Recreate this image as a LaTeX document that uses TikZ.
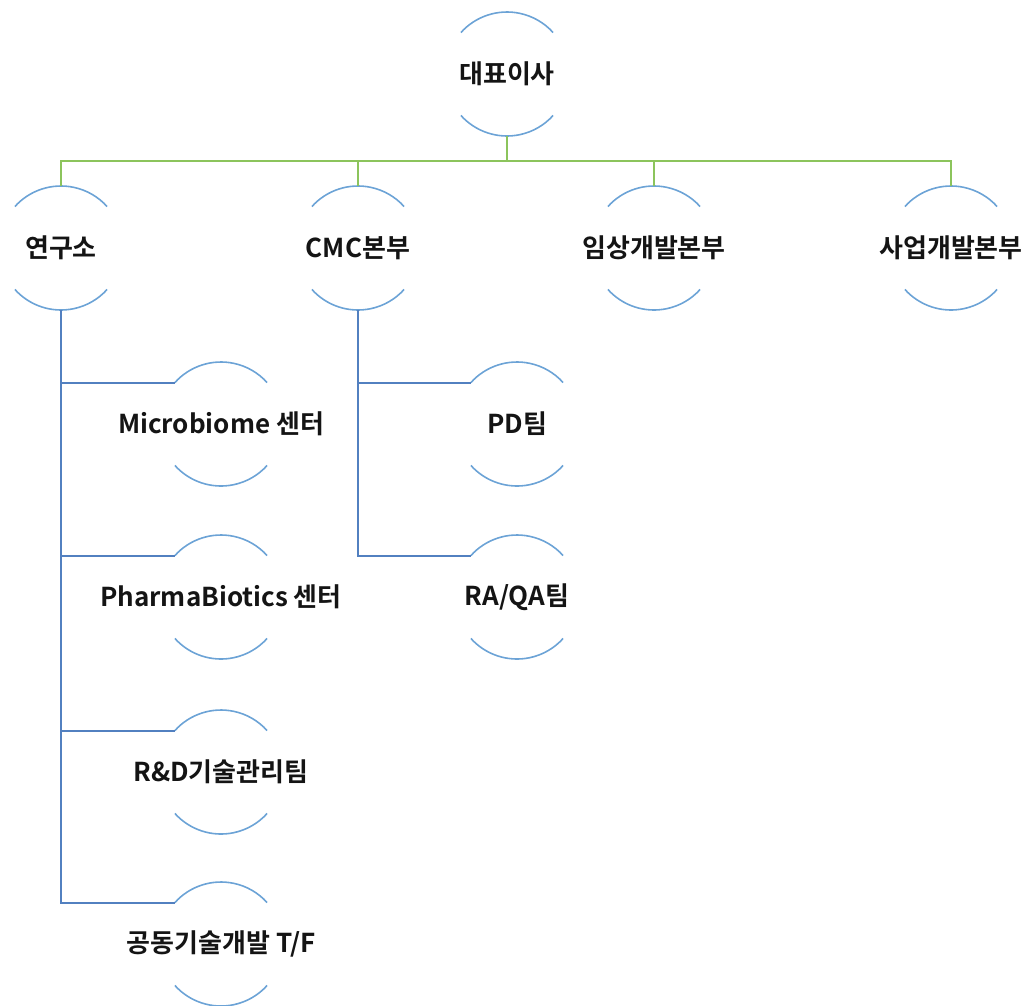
\documentclass[tikz,border=0pt]{standalone}
\usepackage{fontspec}
\newfontfamily\krfont{Noto Sans CJK KR}[BoldFont={Noto Sans CJK KR Bold}]
\usetikzlibrary{positioning,calc}
\definecolor{arcblue}{RGB}{108,163,214}
\definecolor{linkblue}{RGB}{82,128,192}
\definecolor{linkgreen}{RGB}{140,196,92}
\tikzset{orgc/.style={circle, minimum size=124pt, inner sep=0pt, outer sep=0pt, label={[font=\krfont\bfseries\fontsize{26}{30}\selectfont, text=black!92]center:#1}}}
\tikzset{arcc/.style={draw=arcblue, line width=1.6pt}}
\tikzset{lnk1/.style={draw=linkgreen, line width=2pt}}
\tikzset{lnk2/.style={draw=linkblue, line width=2pt}}
\begin{document}
\begin{tikzpicture}[x=1pt, y=1pt]
\useasboundingbox (0,0) rectangle (1032,-1005);
\node[orgc={대표이사}] (ceo) at (507,-74) {};
\node[orgc={연구소}] (lab) at (61,-248) {};
\node[orgc={CMC본부}, right=173pt of lab] (cmc) {};
\node[orgc={임상개발본부}, right=172pt of cmc] (clin) {};
\node[orgc={사업개발본부}, right=173pt of clin] (biz) {};
% 연구소 아래
\node[orgc={Microbiome 센터}] (mb) at (221,-424) {};
\node[orgc={PharmaBiotics 센터}, below=49pt of mb] (pb) {};
\node[orgc={R\&D기술관리팀}, below=51pt of pb] (rd) {};
\node[orgc={공동기술개발 T/F}, below=48pt of rd] (tf) {};
% CMC본부 아래
\node[orgc={PD팀}] (pd) at (517,-424) {};
\node[orgc={RA/QA팀}, below=49pt of pd] (ra) {};
\foreach \n in {ceo,lab,cmc,clin,biz,mb,pb,rd,tf,pd,ra} {
  \draw[arcc] (\n.138) arc[start angle=138, end angle=42, radius=62pt];
  \draw[arcc] (\n.222) arc[start angle=222, end angle=318, radius=62pt];
}
\draw[lnk1] (ceo.south) -- ++(0,-25) coordinate (bus);
\foreach \n in {lab,cmc,clin,biz} \draw[lnk1] (bus) -| (\n.north);
\foreach \n in {mb,pb,rd,tf} \draw[lnk2] (lab.south) |- (\n.138);
\foreach \n in {pd,ra} \draw[lnk2] (cmc.south) |- (\n.138);
\end{tikzpicture}
\end{document}
